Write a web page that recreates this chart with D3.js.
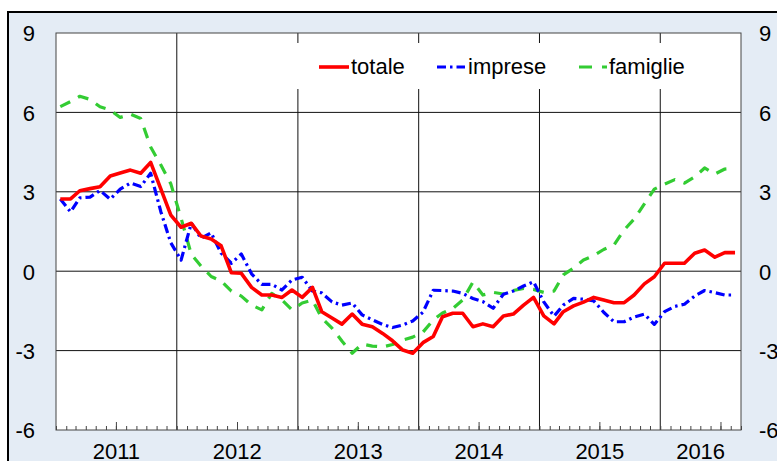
<!DOCTYPE html>
<html>
<head>
<meta charset="utf-8">
<script src="https://cdn.jsdelivr.net/npm/d3@7"></script>
<style>
  body { margin: 0; background: #fff; }
  text { font-family: "Liberation Sans", Arial, sans-serif; }
</style>
</head>
<body>
<svg id="chart" width="777" height="461"></svg>
<script>
(function(){

  // monthly values, Jan 2011 - Aug 2016
  var totale = [2.73, 2.73, 3.04, 3.12, 3.19, 3.6, 3.71, 3.82, 3.7, 4.11, 3.1, 2.12,
    1.66, 1.81, 1.33, 1.22, 0.96, -0.06, -0.08, -0.61, -0.9, -0.9, -0.99, -0.71,
    -0.99, -0.61, -1.53, -1.77, -2.0, -1.62, -2.0, -2.1, -2.35, -2.63, -2.98, -3.1,
    -2.7, -2.47, -1.72, -1.59, -1.59, -2.1, -1.99, -2.1, -1.69, -1.62, -1.28, -0.99,
    -1.69, -1.99, -1.53, -1.31, -1.17, -0.99, -1.09, -1.19, -1.19, -0.9, -0.48, -0.21,
    0.3, 0.3, 0.3, 0.68, 0.8, 0.53, 0.7, 0.7]
  var imprese = [2.73, 2.24, 2.77, 2.8, 3.05, 2.72, 3.1, 3.33, 3.2, 3.7, 2.24, 1.07,
    0.42, 1.82, 1.24, 1.45, 0.68, 0.3, 0.65, -0.1, -0.5, -0.5, -0.71, -0.33,
    -0.23, -0.75, -0.82, -1.16, -1.28, -1.2, -1.65, -1.84, -2.01, -2.13, -2.03, -1.88,
    -1.55, -0.72, -0.73, -0.75, -0.84, -1.03, -1.15, -1.4, -0.87, -0.75, -0.56, -0.4,
    -1.16, -1.7, -1.28, -1.03, -1.06, -1.12, -1.55, -1.91, -1.91, -1.73, -1.62, -2.01,
    -1.53, -1.33, -1.25, -0.94, -0.73, -0.81, -0.9, -0.9]
  var famiglie = [6.22, 6.41, 6.61, 6.49, 6.21, 6.09, 5.81, 5.93, 5.77, 4.69, 4.01, 3.3,
    2.0, 0.63, 0.2, -0.2, -0.37, -0.75, -0.94, -1.28, -1.46, -0.84, -1.09, -1.46,
    -1.2, -1.09, -1.77, -2.15, -2.64, -3.1, -2.75, -2.83, -2.86, -2.77, -2.6, -2.49,
    -2.3, -1.84, -1.58, -1.41, -1.09, -0.41, -0.9, -0.8, -0.86, -0.73, -0.65, -0.69,
    -0.8, -0.75, -0.14, 0.12, 0.42, 0.59, 0.82, 0.99, 1.56, 1.97, 2.54, 3.1,
    3.29, 3.46, 3.33, 3.56, 3.9, 3.67, 3.86, 3.89]

  var yTicks = [-6, -3, 0, 3, 6, 9]
  var years = [2011, 2012, 2013, 2014, 2015, 2016]
  var seriesNames = ['totale', 'imprese', 'famiglie']

  var LEFT = 56, RIGHT = 741, TOP = 33, BOTTOM = 430
  var FONT = 22

  var svg = d3.select('#chart')

  var x = d3.scaleTime()
    .domain([new Date(2011, 0, 1), new Date(2016, 8, 1)])
    .range([LEFT, RIGHT])
  var y = d3.scaleLinear().domain([-6, 9]).range([BOTTOM, TOP])

  // outer panel
  svg.append('rect')
    .attr('x', 8).attr('y', 12)
    .attr('width', 820).attr('height', 520)
    .attr('fill', '#e4ecf5')
    .attr('stroke', '#000')
    .attr('stroke-width', 2)

  svg.append('rect')
    .attr('x', LEFT).attr('y', TOP)
    .attr('width', RIGHT - LEFT).attr('height', BOTTOM - TOP)
    .attr('fill', '#fff')

  // grid
  svg.append('g')
    .selectAll('line')
    .data(yTicks.filter(function (d) { return d > -6 && d < 9 }))
    .join('line')
    .attr('x1', LEFT).attr('x2', RIGHT)
    .attr('y1', function (d) { return y(d) })
    .attr('y2', function (d) { return y(d) })
    .attr('stroke', '#111')
    .attr('stroke-width', 1)

  svg.append('g')
    .selectAll('line')
    .data(years.slice(1))
    .join('line')
    .attr('x1', function (d) { return x(new Date(d, 0, 1)) })
    .attr('x2', function (d) { return x(new Date(d, 0, 1)) })
    .attr('y1', TOP).attr('y2', BOTTOM)
    .attr('stroke', '#111')
    .attr('stroke-width', 1)

  // month ticks (inward)
  var monthAxis = d3.axisBottom(x)
    .ticks(d3.timeMonth.every(1))
    .tickSize(-4)
    .tickFormat('')
  var gm = svg.append('g')
    .attr('transform', 'translate(0,' + BOTTOM + ')')
    .call(monthAxis)
  gm.select('.domain').remove()
  gm.selectAll('line').attr('stroke', '#444')

  var midAxis = d3.axisBottom(x)
    .tickValues(years.map(function (d) { return new Date(d, 6, 1) }))
    .tickSize(-8)
    .tickFormat('')
  var gmid = svg.append('g')
    .attr('transform', 'translate(0,' + BOTTOM + ')')
    .call(midAxis)
  gmid.select('.domain').remove()
  gmid.selectAll('line').attr('stroke', '#444')

  // year labels centred on the visible part of each year
  svg.append('g')
    .selectAll('text')
    .data(years)
    .join('text')
    .attr('x', function (d) {
      var a = x(new Date(d, 0, 1))
      var b = Math.min(x(new Date(d + 1, 0, 1)), RIGHT)
      return (a + b) / 2
    })
    .attr('y', 459)
    .attr('text-anchor', 'middle')
    .attr('font-size', FONT)
    .attr('fill', '#000')
    .text(function (d) { return d })

  // y labels both sides (plain hyphen minus like the original)
  var fmt = function (d) { return String(d) }
  var gl = svg.append('g')
    .attr('transform', 'translate(35,0)')
    .call(d3.axisLeft(y).tickValues(yTicks).tickSize(0).tickPadding(0).tickFormat(fmt))
  var gr = svg.append('g')
    .attr('transform', 'translate(759,0)')
    .call(d3.axisRight(y).tickValues(yTicks).tickSize(0).tickPadding(0).tickFormat(fmt))
  ;[gl, gr].forEach(function (g) {
    g.select('.domain').remove()
    g.selectAll('text')
      .attr('font-size', FONT)
      .attr('font-family', '"Liberation Sans", Arial, sans-serif')
      .attr('fill', '#000')
      .attr('dy', '0.36em')
  })

  // plot border
  svg.append('rect')
    .attr('x', LEFT).attr('y', TOP)
    .attr('width', RIGHT - LEFT).attr('height', BOTTOM - TOP)
    .attr('fill', 'none')
    .attr('stroke', '#444')
    .attr('stroke-width', 1)

  var styles = {
    totale: { color: '#ff0000', width: 3.6, dash: null },
    imprese: { color: '#0000ff', width: 3.2, dash: '9,4,2.5,4' },
    famiglie: { color: '#33cc33', width: 3.2, dash: '11,9' }
  }
  var values = { totale: totale, imprese: imprese, famiglie: famiglie }

  var line = d3.line()
    .x(function (d, i) { return x(new Date(2011, i, 14)) })
    .y(function (d) { return y(d) })

  ;['famiglie', 'imprese', 'totale'].forEach(function (name) {
    var s = styles[name]
    svg.append('path')
      .attr('d', line(values[name]))
      .attr('fill', 'none')
      .attr('stroke', s.color)
      .attr('stroke-width', s.width)
      .attr('stroke-linejoin', 'round')
      .attr('stroke-dasharray', s.dash)
  })

  // legend
  svg.append('rect')
    .attr('x', 292).attr('y', 43)
    .attr('width', 410).attr('height', 46)
    .attr('fill', '#fff')

  var legendX = [319, 437, 579]
  var lg = svg.append('g')
    .selectAll('g')
    .data(seriesNames)
    .join('g')
    .attr('transform', function (d, i) { return 'translate(' + legendX[i] + ',67)' })
  lg.append('line')
    .attr('x1', 0).attr('x2', function (d) { return d === 'totale' ? 30 : 28 })
    .attr('y1', 0).attr('y2', 0)
    .attr('stroke', function (d) { return styles[d].color })
    .attr('stroke-width', function (d) { return styles[d].width })
    .attr('stroke-dasharray', function (d) { return d === 'famiglie' ? '13,10' : styles[d].dash })
  lg.append('text')
    .attr('x', function (d) { return d === 'totale' ? 32 : (d === 'imprese' ? 31 : 30) })
    .attr('y', 7)
    .attr('font-size', FONT)
    .attr('fill', '#000')
    .text(function (d) { return d })

})()
</script>
</body>
</html>
